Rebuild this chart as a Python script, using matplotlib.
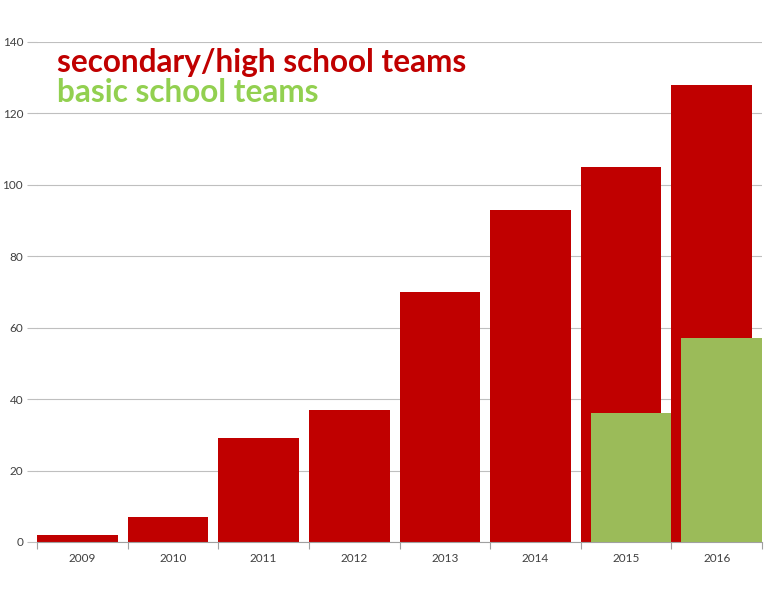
import matplotlib
matplotlib.use("Agg")
import matplotlib.pyplot as plt
import numpy as np

years = ["2009", "2010", "2011", "2012", "2013", "2014", "2015", "2016"]
secondary = [2, 7, 29, 37, 70, 93, 105, 128]
basic_years = ["2015", "2016"]
basic = [36, 57]

red = "#C00000"
green = "#9BBB59"

plt.rcParams['font.family'] = ['Lato', 'DejaVu Sans']

fig = plt.figure(figsize=(7.76, 6.0), dpi=100)
ax = fig.add_axes([37 / 776, 58 / 600, 725 / 776, 500 / 600])

x = np.arange(len(years))
bw = 0.89
ax.bar(x - 0.5, secondary, width=bw, align='edge', color=red, zorder=2)
bx = np.array([years.index(y) for y in basic_years])
ax.bar(bx - 0.39, basic, width=bw, align='edge', color=green, zorder=3)

ax.set_xlim(-0.5, len(years) - 0.5)
ax.set_ylim(0, 140)
ax.set_yticks(range(0, 141, 20))
ax.yaxis.grid(True, color="#BFBFBF", linewidth=0.8, zorder=0)
ax.set_axisbelow(True)

ax.set_xticks(x)
ax.set_xticklabels(years)
ax.set_xticks(np.arange(len(years) + 1) - 0.5, minor=True)
ax.tick_params(axis='x', which='major', length=0, pad=8, labelsize=8.5, colors="#404040")
ax.tick_params(axis='x', which='minor', length=5, color="#A0A0A0", width=0.8)
ax.tick_params(axis='y', length=7, color="#BFBFBF", width=0.8, labelsize=8.5, labelcolor="#404040", pad=3)

for s in ['top', 'right', 'left']:
    ax.spines[s].set_visible(False)
ax.spines['bottom'].set_color("#A0A0A0")
ax.spines['bottom'].set_linewidth(0.8)

ax.text(0.028, 0.959, "secondary/high school teams", transform=ax.transAxes,
        color=red, fontsize=22.7, fontweight='bold', va='center', ha='left')
ax.text(0.028, 0.899, "basic school teams", transform=ax.transAxes,
        color="#92D050", fontsize=22.7, fontweight='bold', va='center', ha='left')

fig.savefig("out.png", dpi=100)
